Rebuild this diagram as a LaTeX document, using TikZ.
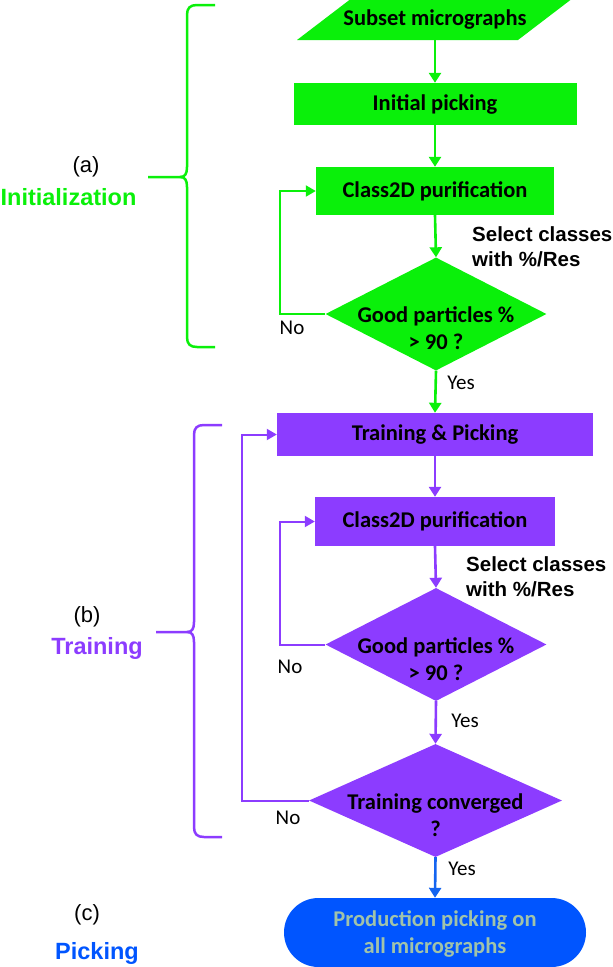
\documentclass[tikz,border=0pt]{standalone}
\usepackage{fontspec}
\setmainfont{Liberation Sans}
\newfontfamily\calib{Carlito}
\usetikzlibrary{shapes.geometric,arrows.meta}
\definecolor{gr}{RGB}{10,240,10}
\definecolor{pu}{RGB}{140,60,255}
\definecolor{bl}{RGB}{0,85,255}
\definecolor{blarrow}{RGB}{20,100,240}
\definecolor{pilltxt}{RGB}{160,195,170}
\begin{document}
\begin{tikzpicture}[x=1pt,y=-1pt,
  boxtxt/.style={font=\calib\bfseries\fontsize{22.5}{27}\selectfont, align=center, text=black, inner sep=0},
  procbox/.style={draw=none, inner sep=0, font=\calib\bfseries\fontsize{22.5}{27}\selectfont},
  dia/.style={shape=diamond, draw=none, inner sep=0},
  flow/.style={line width=2.6pt, -{Triangle[width=12pt,length=10pt]}},
  loopline/.style={line width=2pt, -{Triangle[width=11pt,length=10pt]}},
  brace/.style={line width=2.5pt},
  yn/.style={font=\calib\fontsize{21}{25}\selectfont, inner sep=0},
  sel/.style={font=\bfseries\fontsize{20.5}{25}\selectfont, align=left, anchor=west, inner sep=0},
  lab/.style={font=\fontsize{22}{26}\selectfont, inner sep=0},
  stage/.style={font=\bfseries\fontsize{23.5}{28}\selectfont, inner sep=0}]
\useasboundingbox (0,0) rectangle (613,967);

% ---------- (a) Initialization ----------
\fill[gr] (297,40) -- (518,40) -- (573,-2) -- (352,-2) -- cycle;
\node[procbox, minimum height=40] (sm) at (435,20) {Subset micrographs};
\node[procbox, fill=gr, minimum width=283, minimum height=42] (ip) at (435,104) {Initial picking};
\node[procbox, fill=gr, minimum width=238, minimum height=48] (c1) at (435,191) {Class2D purification};
\node[dia, fill=gr, minimum width=221, minimum height=113] (d1) at (436,314) {};
\node[boxtxt] (d1t) at (436,328.5) {Good particles \%\\> 90 ?};

\draw[gr, flow] (sm.south) -- (ip.north);
\draw[gr, flow] (ip.south) -- (c1.north);
\draw[gr, flow] (c1.south) -- (d1.north);
\draw[gr, loopline] (d1.west) -- ++(-45,0) |- (c1.west);
\node[sel] (s1) at (472,246.5) {Select classes\\with \%/Res};
\node[yn] (no1) at (292,328) {No};

% ---------- (b) Training ----------
\node[procbox, fill=pu, minimum width=316, minimum height=43] (tp) at (435,434.5) {Training \& Picking};
\node[procbox, fill=pu, minimum width=240, minimum height=49] (c2) at (435,521.5) {Class2D purification};
\node[dia, fill=pu, minimum width=221, minimum height=113] (d2) at (436,644.5) {};
\node[boxtxt] (d2t) at (436,659.5) {Good particles \%\\> 90 ?};
\node[dia, fill=pu, minimum width=253, minimum height=113] (d3) at (435.5,800.5) {};
\node[boxtxt] (d3t) at (435.5,815) {Training converged\\?};

\draw[gr, flow] (d1.south) -- (tp.north);
\node[yn] (y1) at (461,383) {Yes};
\draw[pu, flow] (tp.south) -- (c2.north);
\draw[pu, flow] (c2.south) -- (d2.north);
\draw[pu, loopline] (d2.west) -- ++(-45,0) |- (c2.west);
\node[sel] (s2) at (466,577) {Select classes\\with \%/Res};
\node[yn] (no2) at (290,667) {No};
\draw[pu, flow] (d2.south) -- (d3.north);
\node[yn] (y2) at (465,721) {Yes};
\draw[pu, loopline] (d3.west) -- ++(-67,0) |- (tp.west);
\node[yn] (no3) at (288,818) {No};

% ---------- (c) Picking ----------
\node[procbox, fill=bl, minimum width=302, minimum height=69, rounded corners=34.5] (pp) at (435,932.5) {};
\node[boxtxt, text=pilltxt] (ppt) at (435,934) {Production picking on\\all micrographs};
\draw[blarrow, flow] (d3.south) -- (pp.north);
\node[yn] (y3) at (462,869) {Yes};

% ---------- braces and stage labels ----------
\draw[gr, brace] (215,5) -- (197,5) .. controls (190,5) and (187,8) .. (187,15) -- (187,167)
  .. controls (187,174) and (185,177) .. (180,177) -- (148,177);
\draw[gr, brace] (180,177) .. controls (185,177) and (187,180) .. (187,187) -- (187,337)
  .. controls (187,344) and (190,347) .. (197,347) -- (215,347);
\draw[pu, brace] (222,425) -- (204,425) .. controls (197,425) and (194,428) .. (194,435) -- (194,622)
  .. controls (194,629) and (192,632) .. (187,632) -- (156,632);
\draw[pu, brace] (187,632) .. controls (192,632) and (194,635) .. (194,642) -- (194,827)
  .. controls (194,834) and (197,837) .. (204,837) -- (222,837);

\node[lab] (la) at (86,167) {(a)};
\node[stage, text=gr] (sa) at (68.5,197) {Initialization};
\node[lab] (lb) at (87,617) {(b)};
\node[stage, text=pu] (sb) at (97,648) {Training};
\node[lab] (lc) at (87,915) {(c)};
\node[stage, text=bl] (sc) at (97,953) {Picking};
\end{tikzpicture}
\end{document}
